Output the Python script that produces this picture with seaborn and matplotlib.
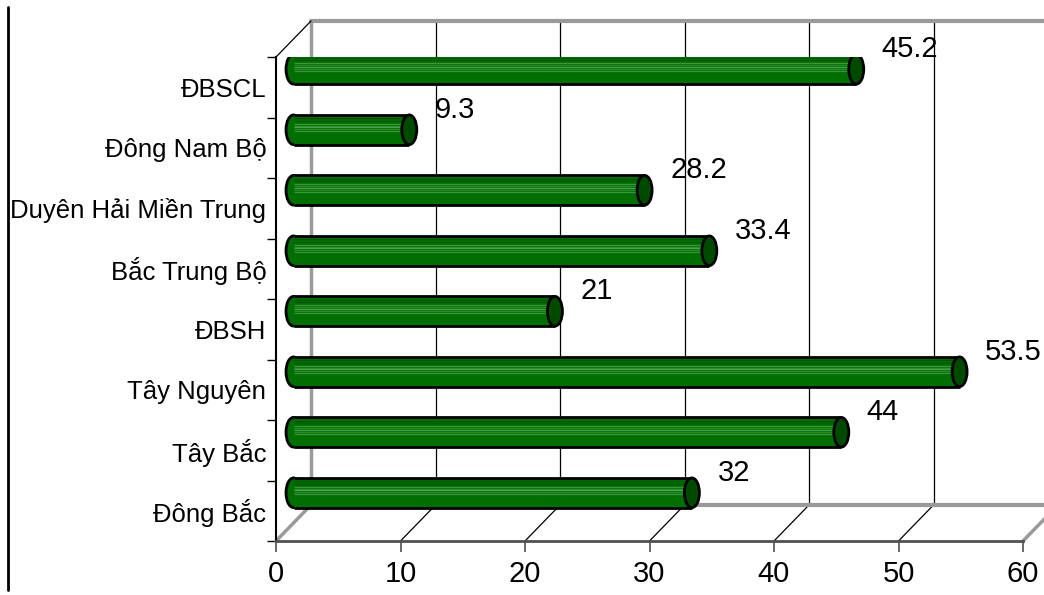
import numpy as np
import matplotlib
matplotlib.use("Agg")
import matplotlib.pyplot as plt
from matplotlib.patches import Ellipse
from matplotlib.lines import Line2D
import seaborn as sns

# ---- data ----
categories = ["ĐBSCL", "Đông Nam Bộ", "Duyên Hải Miền Trung", "Bắc Trung Bộ",
              "ĐBSH", "Tây Nguyên", "Tây Bắc", "Đông Bắc"]
values = [45.2, 9.3, 28.2, 33.4, 21, 53.5, 44, 32]
x_ticks = [0, 10, 20, 30, 40, 50, 60]

sns.set_style("white")
plt.rcParams["font.family"] = ["Liberation Sans", "DejaVu Sans"]
plt.rcParams["text.color"] = "black"
plt.rcParams["xtick.color"] = "black"
plt.rcParams["ytick.color"] = "black"

W, H = 1044, 595
fig = plt.figure(figsize=(W / 100, H / 100), dpi=100)
# front plane of the 3-D box
fx0, fx1, fy_top, fy_bot = 276, 1023, 57, 541
ax = fig.add_axes([fx0 / W, (H - fy_bot) / H, (fx1 - fx0) / W, (fy_bot - fy_top) / H])

n = len(categories)
xmax = x_ticks[-1]
px_per_x = (fx1 - fx0) / xmax
px_per_y = (fy_bot - fy_top) / n
depth_dx_px, depth_dy_px = 35, 36
dxd = depth_dx_px / px_per_x          # depth in data units (x)
dyd = depth_dy_px / px_per_y          # depth in data units (category)

BODY = "#006e00"
CAP = "#004a00"
WALL = "#9a9a9a"

sns.barplot(x=values, y=categories, orient="h", color=BODY, width=0.49,
            linewidth=0, saturation=1, ax=ax, zorder=3)
ax.set_xlim(0, xmax)
ax.set_ylim(n - 0.5, -0.5)
ax.set_xlabel("")
ax.set_ylabel("")

ytop, ybot = -0.5, n - 0.5
# back wall and floor
for v in x_ticks:
    edge = v in (x_ticks[0], x_ticks[-1])
    col, lw = (WALL, 2.5) if edge else ("black", 0.9)
    ax.plot([v + dxd, v + dxd], [ybot - dyd, ytop - dyd], color=col, lw=lw,
            clip_on=False, zorder=1)
    ax.plot([v, v + dxd], [ybot, ybot - dyd], color=col, lw=lw,
            clip_on=False, zorder=1)
ax.plot([dxd, xmax + dxd], [ytop - dyd] * 2, color=WALL, lw=3, clip_on=False, zorder=1)
ax.plot([dxd, xmax + dxd], [ybot - dyd] * 2, color=WALL, lw=3, clip_on=False, zorder=1)
ax.plot([0, dxd], [ytop, ytop - dyd], color="black", lw=0.9, clip_on=False, zorder=1)

# cylinders
cap_w = 15 / px_per_x
for p, val in zip(ax.patches, values):
    p.set_x(p.get_x() + dxd / 2)
    p.set_y(p.get_y() - dyd / 2)
    x0 = p.get_x()
    x1 = x0 + p.get_width()
    y0 = p.get_y()
    h = p.get_height()
    yc = y0 + h / 2
    # highlight stripes
    for f, c in [(0.12, "#005800"), (0.2, "#005800"), (0.3, "#3b963b"), (0.36, "#2f8a2f"),
                 (0.42, "#4aa34a"), (0.48, "#2f8a2f"), (0.55, "#3b963b")]:
        ax.plot([x0, x1], [y0 + f * h] * 2, color=c, lw=0.9, zorder=3.2,
                solid_capstyle="butt")
    ax.plot([x0, x1], [y0, y0], color="black", lw=2, zorder=3.5, solid_capstyle="butt")
    ax.plot([x0, x1], [y0 + h, y0 + h], color="black", lw=2, zorder=3.5,
            solid_capstyle="butt")
    ax.add_patch(Ellipse((x0, yc), cap_w, h, facecolor=BODY, edgecolor="black",
                         lw=2, zorder=2.5))
    ax.add_patch(Ellipse((x1, yc), cap_w, h, facecolor=CAP, edgecolor="black",
                         lw=2, zorder=4))

# value labels
for i, val in enumerate(values):
    ax.annotate(f"{val:g}", xy=(val, i), xytext=(43, 38), textcoords="offset pixels",
                ha="left", va="center", fontsize=21, color="black", zorder=5)

# axes styling
for s in ["top", "right"]:
    ax.spines[s].set_visible(False)
ax.spines["left"].set_color("black")
ax.spines["left"].set_linewidth(1.5)
ax.spines["bottom"].set_color("#505050")
ax.spines["bottom"].set_linewidth(2)
ax.spines["left"].set_zorder(2)
ax.spines["bottom"].set_zorder(2)

ax.set_xticks(x_ticks)
ax.set_xticklabels([str(t) for t in x_ticks])
ax.tick_params(axis="x", direction="out", length=8, width=1.2, color="#505050",
               labelcolor="black", labelsize=21, pad=6, bottom=True)
ax.set_yticks(range(n))
ax.set_yticklabels(categories)
ax.set_yticks(np.arange(-0.5, n, 1), minor=True)
ax.tick_params(axis="y", which="major", length=0, labelsize=18.5, pad=7, left=True,
               labelcolor="black")
ax.tick_params(axis="y", which="minor", length=6.5, width=1, color="black", left=True)
ax.grid(False)
ax.patch.set_alpha(0)

fig.add_artist(Line2D([8 / W, 8 / W], [1 - 7 / H, 1 - 590 / H],
                      transform=fig.transFigure, color="black", lw=2))

fig.savefig("out.png", dpi=100)
